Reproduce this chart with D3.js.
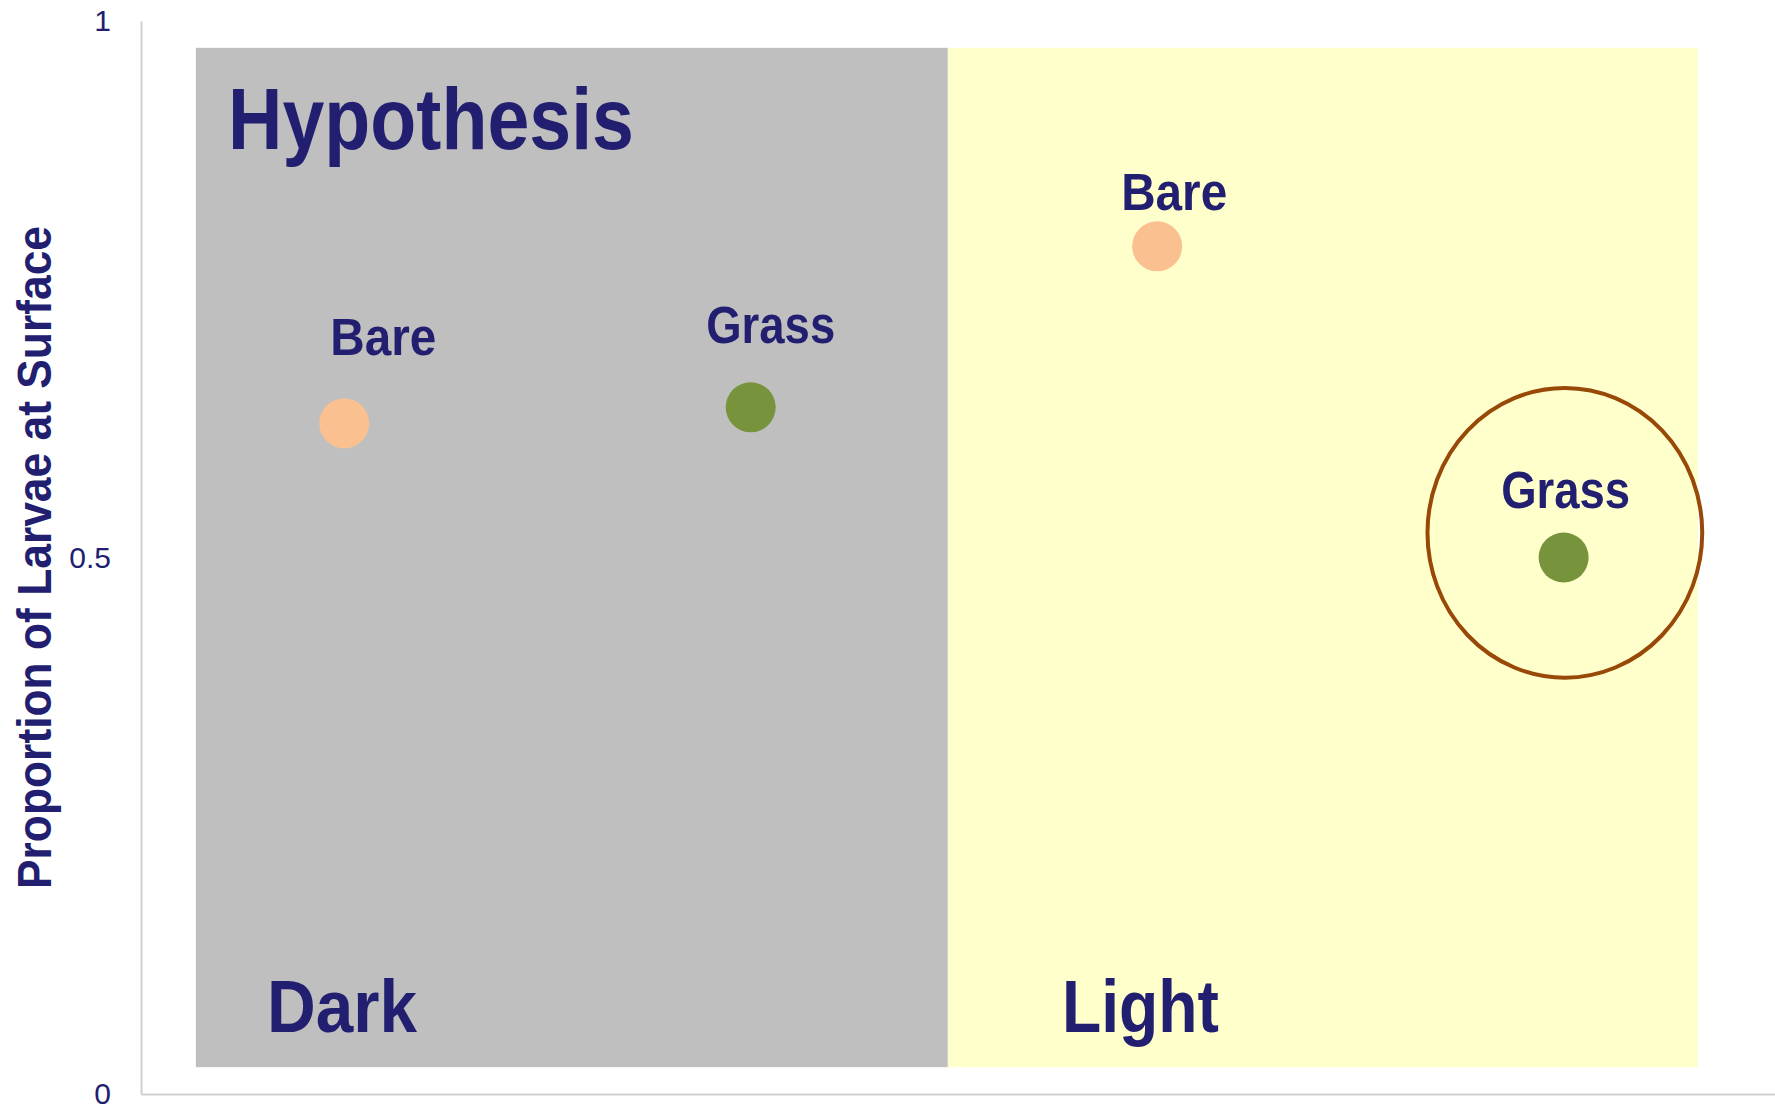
<!DOCTYPE html>
<html>
<head>
<meta charset="utf-8">
<script src="https://cdn.jsdelivr.net/npm/d3@7"></script>
<style>
  html, body { margin: 0; padding: 0; background: #ffffff; }
  svg { display: block; font-family: "Liberation Sans", Arial, sans-serif; }
</style>
</head>
<body>
<div id="chart"></div>
<script>
/* data */
const conditions = ['Dark', 'Light'];
const substrates = ['Bare', 'Grass'];
// x slot of each point (0.5 = first slot), proportion at surface
const point_slot = [0.5, 1.5, 2.5, 3.5];
const point_condition = ['Dark', 'Dark', 'Light', 'Light'];
const point_substrate = ['Bare', 'Grass', 'Bare', 'Grass'];
const point_value = [0.625, 0.64, 0.79, 0.5];
// shaded panels behind the points, in axis units
const panel_x0 = [0.135, 1.985];
const panel_x1 = [1.985, 3.83];
const panel_y0 = [0.025, 0.025];
const panel_y1 = [0.975, 0.975];
const y_ticks = [0, 0.5, 1];
const title_text = 'Hypothesis';
const y_title = 'Proportion of Larvae at Surface';
// the circled point (Light / Grass)
const highlight = { x: 3.503, y: 0.523, rx: 0.338, ry: 0.135 };

const W = 1775, H = 1109;
const TEXT = '#221e70';

const svg = d3.select('#chart').append('svg')
  .attr('width', W).attr('height', H);

const x = d3.scaleLinear().domain([0, 4.02]).range([141, 1775]);
const y = d3.scaleLinear().domain([0, 1]).range([1094, 21]);

const panel_fill = { 'Dark': '#bfbfbf', 'Light': '#ffffcc' };
const dot_fill = { 'Bare': '#fac090', 'Grass': '#77933c' };

// panels
svg.append('g').selectAll('rect')
  .data(conditions)
  .join('rect')
  .attr('x', (d, i) => x(panel_x0[i]))
  .attr('width', (d, i) => x(panel_x1[i]) - x(panel_x0[i]))
  .attr('y', (d, i) => y(panel_y1[i]))
  .attr('height', (d, i) => y(panel_y0[i]) - y(panel_y1[i]))
  .attr('fill', d => panel_fill[d]);

// axes
const yAxis = svg.append('g')
  .attr('transform', 'translate(' + x(0) + ',0)')
  .call(d3.axisLeft(y).tickValues(y_ticks).tickSize(0).tickPadding(30)
    .tickFormat(d => String(d)));
const xAxis = svg.append('g')
  .attr('transform', 'translate(0,' + y(0) + ')')
  .call(d3.axisBottom(x).tickValues([]).tickSize(0).tickSizeOuter(0));

[yAxis, xAxis].forEach(a => {
  a.select('.domain').attr('stroke', '#d0d0d0').attr('stroke-width', 2);
});
yAxis.selectAll('text')
  .attr('fill', TEXT)
  .attr('font-size', 30)
  .attr('font-family', '"Liberation Sans", Arial, sans-serif');

// y axis title
svg.append('text')
  .attr('transform', 'translate(51,' + y(0.5) + ') rotate(-90)')
  .attr('text-anchor', 'middle')
  .attr('font-size', 48)
  .attr('font-weight', 'bold')
  .attr('fill', TEXT)
  .attr('textLength', 663)
  .attr('lengthAdjust', 'spacingAndGlyphs')
  .text(y_title);

// title inside the dark panel
svg.append('text')
  .attr('x', 228).attr('y', 149)
  .attr('font-size', 88)
  .attr('font-weight', 'bold')
  .attr('fill', TEXT)
  .attr('textLength', 406)
  .attr('lengthAdjust', 'spacingAndGlyphs')
  .text(title_text);

// condition labels at the bottom of each panel
const cond_label_x = { 'Dark': 267, 'Light': 1062 };
const cond_label_w = { 'Dark': 150, 'Light': 157 };
svg.append('g').selectAll('text')
  .data(conditions)
  .join('text')
  .attr('x', d => cond_label_x[d])
  .attr('y', 1032)
  .attr('font-size', 75)
  .attr('font-weight', 'bold')
  .attr('fill', TEXT)
  .attr('textLength', d => cond_label_w[d])
  .attr('lengthAdjust', 'spacingAndGlyphs')
  .text(d => d);

// highlight ellipse
svg.append('ellipse')
  .attr('cx', x(highlight.x))
  .attr('cy', y(highlight.y))
  .attr('rx', x(highlight.rx) - x(0))
  .attr('ry', y(0) - y(highlight.ry))
  .attr('fill', 'none')
  .attr('stroke', '#984807')
  .attr('stroke-width', 4);

// points
svg.append('g').selectAll('circle')
  .data(point_value)
  .join('circle')
  .attr('cx', (d, i) => x(point_slot[i]))
  .attr('cy', d => y(d))
  .attr('r', 25)
  .attr('fill', (d, i) => dot_fill[point_substrate[i]]);

// point labels, offsets as placed on the slide
const label_dx = [39, 20, 17, 2];
const label_dy = [-68, -64, -36, -50];
const label_w = { 'Bare': 106, 'Grass': 129 };
svg.append('g').selectAll('text')
  .data(point_value)
  .join('text')
  .attr('x', (d, i) => x(point_slot[i]) + label_dx[i])
  .attr('y', (d, i) => y(d) + label_dy[i])
  .attr('text-anchor', 'middle')
  .attr('font-size', 51)
  .attr('font-weight', 'bold')
  .attr('fill', TEXT)
  .attr('textLength', (d, i) => label_w[point_substrate[i]])
  .attr('lengthAdjust', 'spacingAndGlyphs')
  .text((d, i) => point_substrate[i]);
</script>
</body>
</html>
